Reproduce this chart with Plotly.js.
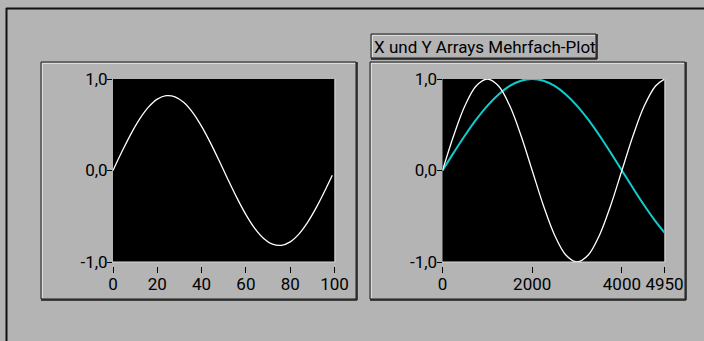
<!DOCTYPE html>
<html>
<head>
<meta charset="utf-8">
<script src="https://cdn.plot.ly/plotly-3.0.1.min.js"></script>
<style>
html,body{margin:0;padding:0;background:#b4b4b4;}
#chart{width:704px;height:341px;}
</style>
</head>
<body>
<div id="chart"></div>
<script>
// ---- data ----
const leftX = [0,4,8,12,16,20,24,28,32,36,40,44,48,52,56,60,64,68,72,76,80,84,88,92,96,99];
const leftY = [0,0.204,0.395,0.561,0.692,0.780,0.818,0.805,0.742,0.632,0.482,0.302,0.103,
               -0.103,-0.302,-0.482,-0.632,-0.742,-0.805,-0.818,-0.780,-0.692,-0.561,-0.395,-0.204,-0.052];

const rightX = [0,250,500,750,1000,1250,1500,1750,2000,2250,2500,2750,3000,3250,3500,3750,4000,4250,4500,4750,4950];
const whiteY = [0,0.383,0.707,0.924,1,0.924,0.707,0.383,0,-0.383,-0.707,-0.924,-1,-0.924,-0.707,-0.383,0,0.383,0.707,0.924,0.999];
const cyanY  = [0,0.195,0.383,0.556,0.707,0.831,0.924,0.981,1,0.981,0.924,0.831,0.707,0.556,0.383,0.195,0,-0.195,-0.383,-0.556,-0.679];

const yTickVals = [-1,0,1];
const yTickText = ['-1,0','0,0','1,0'];
const leftXTicks = [0,20,40,60,80,100];
const rightXTicks = [0,2000,4000,4950];
const boxTitle = 'X und Y Arrays Mehrfach-Plot';

// ---- layout helpers ----
const W = 704, H = 341;
const px = v => v / W;
const py = v => 1 - v / H;
const FONT = {family: 'Roboto, "DejaVu Sans Condensed", sans-serif', size: 17, color: '#000'};

const traces = [
  {x: leftX, y: leftY, xaxis: 'x', yaxis: 'y', mode: 'lines',
   line: {color: '#ffffff', width: 1.3, shape: 'spline'}, hoverinfo: 'skip'},
  {x: rightX, y: cyanY, xaxis: 'x2', yaxis: 'y2', mode: 'lines',
   line: {color: '#10cccc', width: 2, shape: 'spline'}, hoverinfo: 'skip'},
  {x: rightX, y: whiteY, xaxis: 'x2', yaxis: 'y2', mode: 'lines',
   line: {color: '#ffffff', width: 1.3, shape: 'spline'}, hoverinfo: 'skip'}
];

const yDom = [py(262), py(79)];
const xAxisPos = py(266);

function xAxis(domain, range, ticks){
  return {domain: domain, range: range, anchor: 'free', position: xAxisPos,
    tickmode: 'array', tickvals: ticks, ticktext: ticks.map(String), tickangle: 0,
    ticks: 'outside', ticklen: 6, tickwidth: 1, tickcolor: '#000',
    showgrid: false, zeroline: false, showline: false,
    tickfont: FONT, ticklabelstandoff: -3, fixedrange: true};
}
function yAxis(anchor){
  return {domain: yDom, range: [-1, 1], anchor: anchor,
    tickmode: 'array', tickvals: yTickVals, ticktext: yTickText,
    ticks: 'outside', ticklen: 5, tickwidth: 1, tickcolor: '#000',
    showgrid: false, zeroline: false, showline: false,
    tickfont: FONT, ticklabelstandoff: -4, fixedrange: true};
}

function frame(x0, y0, x1, y1){
  return [
    {type: 'rect', xref: 'paper', yref: 'paper', x0: px(x0), x1: px(x1), y0: py(y0), y1: py(y1),
     line: {color: '#1a1a1a', width: 1}, fillcolor: 'rgba(0,0,0,0)', layer: 'below'},
    {type: 'line', xref: 'paper', yref: 'paper', x0: px(x0+1), x1: px(x1-1), y0: py(y0+1.5), y1: py(y0+1.5),
     line: {color: '#dcdcdc', width: 1}, layer: 'below'},
    {type: 'line', xref: 'paper', yref: 'paper', x0: px(x0+1.5), x1: px(x0+1.5), y0: py(y0+1), y1: py(y1-1),
     line: {color: '#dcdcdc', width: 1}, layer: 'below'},
    {type: 'line', xref: 'paper', yref: 'paper', x0: px(x0), x1: px(x1+1), y0: py(y1+1), y1: py(y1+1),
     line: {color: '#1a1a1a', width: 1.5}, layer: 'below'},
    {type: 'line', xref: 'paper', yref: 'paper', x0: px(x1+1), x1: px(x1+1), y0: py(y0), y1: py(y1+1),
     line: {color: '#1a1a1a', width: 1.5}, layer: 'below'}
  ];
}
function plotEdge(x0, x1){
  return [
    {type: 'line', xref: 'paper', yref: 'paper', x0: px(x0), x1: px(x1), y0: py(262), y1: py(262),
     line: {color: '#d8d8d8', width: 1}},
    {type: 'line', xref: 'paper', yref: 'paper', x0: px(x1), x1: px(x1), y0: py(79), y1: py(262),
     line: {color: '#d8d8d8', width: 1}}
  ];
}

const shapes = [
  {type: 'line', xref: 'paper', yref: 'paper', x0: px(6), x1: 1, y0: py(8.5), y1: py(8.5),
   line: {color: '#111', width: 2}},
  {type: 'line', xref: 'paper', yref: 'paper', x0: px(6.5), x1: px(6.5), y0: py(8), y1: 0,
   line: {color: '#111', width: 2}},
  ...frame(41, 62, 356, 299),
  ...frame(370, 62, 685, 299),
  ...frame(371, 34, 596, 58),
  ...plotEdge(112, 335),
  ...plotEdge(442, 665)
];

const layout = {
  width: W, height: H,
  margin: {l: 0, r: 0, t: 0, b: 0, pad: 0},
  paper_bgcolor: '#b4b4b4', plot_bgcolor: '#000000',
  showlegend: false,
  font: FONT,
  xaxis: xAxis([px(113), px(334.5)], [0, 100], leftXTicks),
  yaxis: yAxis('x'),
  xaxis2: xAxis([px(442.5), px(664.5)], [0, 4950], rightXTicks),
  yaxis2: yAxis('x2'),
  shapes: shapes,
  annotations: [
    {xref: 'paper', yref: 'paper', x: px(372), y: py(46.5), xanchor: 'left', yanchor: 'middle',
     text: boxTitle, showarrow: false, font: FONT}
  ]
};

Plotly.newPlot('chart', traces, layout, {staticPlot: true, displayModeBar: false});
</script>
</body>
</html>
